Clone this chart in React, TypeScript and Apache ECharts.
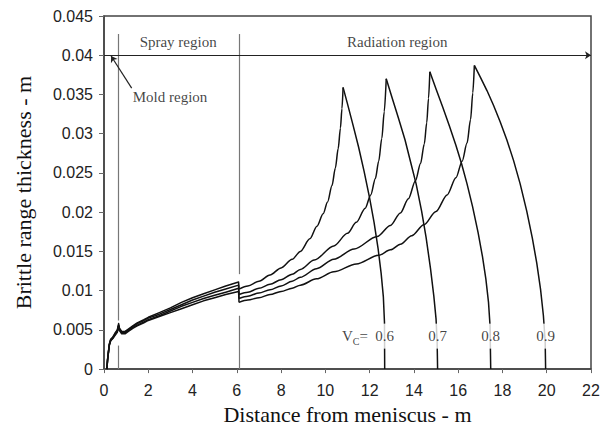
import React, { useEffect, useRef } from "react";
import * as echarts from "echarts";

// Distance from meniscus (m), brittle range thickness (m) for each casting speed Vc
const vc06: [number, number][] = [
  [0.13, 0], [0.16, 0.0012], [0.2, 0.0022], [0.24, 0.0032], [0.3, 0.0038], [0.4, 0.0041], [0.5, 0.0046],
  [0.6, 0.005], [0.66, 0.0058], [0.7, 0.0052], [0.8, 0.0048], [0.95, 0.0048], [1.1, 0.0051], [1.3, 0.0055],
  [1.5, 0.0059], [1.8, 0.0063], [2, 0.0066], [2.5, 0.0072], [3, 0.0078], [3.5, 0.0085], [4, 0.0091],
  [4.5, 0.0096], [5, 0.0101], [5.5, 0.0106], [6.08, 0.0111], [6.1, 0.0102],
  [6.5, 0.0106], [7, 0.0112], [7.5, 0.012], [8, 0.0129], [8.5, 0.014], [8.87, 0.015], [9.3, 0.0166],
  [9.62, 0.0182], [9.9, 0.0198], [10.1, 0.0213], [10.3, 0.0234], [10.45, 0.0256], [10.58, 0.0281],
  [10.68, 0.0307], [10.75, 0.0332], [10.8, 0.0359],
  [11, 0.0338], [11.25, 0.0311], [11.5, 0.0283], [11.75, 0.0252], [12, 0.0218], [12.2, 0.0187],
  [12.38, 0.0154], [12.52, 0.0122], [12.62, 0.0092], [12.67, 0.006], [12.68, 0],
];
const vc07: [number, number][] = [
  [0.13, 0], [0.16, 0.0012], [0.2, 0.0022], [0.24, 0.0031], [0.3, 0.0037], [0.4, 0.004], [0.5, 0.0045],
  [0.6, 0.0049], [0.66, 0.0056], [0.7, 0.0051], [0.8, 0.0047], [0.95, 0.0047], [1.1, 0.005], [1.3, 0.0054],
  [1.5, 0.0058], [1.8, 0.0062], [2, 0.0065], [2.5, 0.007], [3, 0.0076], [3.5, 0.0082], [4, 0.0088],
  [4.5, 0.0093], [5, 0.0098], [5.5, 0.0102], [6.08, 0.0107], [6.1, 0.0095],
  [6.5, 0.0098], [7, 0.0103], [7.5, 0.0108], [8, 0.0114], [8.5, 0.0121], [8.87, 0.0127], [9.5, 0.0139],
  [10.38, 0.0157], [11, 0.0173], [11.4, 0.0187], [11.8, 0.0205], [12.05, 0.0222], [12.26, 0.0243],
  [12.41, 0.0265], [12.55, 0.0294], [12.66, 0.0328], [12.75, 0.037],
  [13, 0.0347], [13.3, 0.032], [13.6, 0.0292], [13.85, 0.0264], [14.1, 0.0236], [14.35, 0.0201],
  [14.55, 0.0168], [14.75, 0.0128], [14.9, 0.0093], [15, 0.0064], [15.05, 0.0034], [15.07, 0],
];
const vc08: [number, number][] = [
  [0.13, 0], [0.16, 0.0011], [0.2, 0.0021], [0.24, 0.0031], [0.3, 0.0036], [0.4, 0.004], [0.5, 0.0044],
  [0.6, 0.0048], [0.66, 0.0055], [0.7, 0.005], [0.8, 0.0046], [0.95, 0.0046], [1.1, 0.0049], [1.3, 0.0053],
  [1.5, 0.0056], [1.8, 0.006], [2, 0.0063], [2.5, 0.0068], [3, 0.0074], [3.5, 0.008], [4, 0.0085],
  [4.5, 0.009], [5, 0.0094], [5.5, 0.0098], [6.08, 0.0103], [6.1, 0.009],
  [6.5, 0.0093], [7, 0.0097], [7.5, 0.0101], [8, 0.0106], [8.5, 0.0112], [8.87, 0.0117], [9.6, 0.0128],
  [10.38, 0.014], [11.3, 0.0153], [12.34, 0.0169], [12.94, 0.0183], [13.39, 0.0199], [13.75, 0.0217],
  [14.07, 0.024], [14.3, 0.0262], [14.47, 0.0287], [14.58, 0.0314], [14.66, 0.0345], [14.72, 0.0379],
  [15, 0.0357], [15.3, 0.0334], [15.6, 0.031], [15.9, 0.0285], [16.15, 0.0262], [16.4, 0.0236],
  [16.65, 0.0207], [16.9, 0.0174], [17.1, 0.0143], [17.25, 0.0115], [17.37, 0.0085], [17.44, 0.0055], [17.47, 0],
];
const vc09: [number, number][] = [
  [0.13, 0], [0.16, 0.0011], [0.2, 0.0021], [0.24, 0.003], [0.3, 0.0036], [0.4, 0.0039], [0.5, 0.0043],
  [0.6, 0.0047], [0.66, 0.0054], [0.7, 0.0049], [0.8, 0.0045], [0.95, 0.0045], [1.1, 0.0048], [1.3, 0.0052],
  [1.5, 0.0055], [1.8, 0.0059], [2, 0.0062], [2.5, 0.0067], [3, 0.0072], [3.5, 0.0077], [4, 0.0082],
  [4.5, 0.0087], [5, 0.0091], [5.5, 0.0095], [6.08, 0.0099], [6.1, 0.0085],
  [6.5, 0.0088], [7, 0.0091], [7.5, 0.0095], [8, 0.0099], [8.5, 0.0103], [8.87, 0.0107], [9.6, 0.0115],
  [10.38, 0.0124], [11.4, 0.0134], [12.41, 0.0145], [12.94, 0.0152], [13.39, 0.0159], [13.9, 0.017],
  [14.45, 0.0184], [15, 0.0201], [15.5, 0.0222], [15.9, 0.0244], [16.18, 0.0265], [16.4, 0.0288],
  [16.56, 0.0318], [16.66, 0.0352], [16.73, 0.0387],
  [17, 0.0372], [17.3, 0.0355], [17.6, 0.0336], [17.9, 0.0315], [18.2, 0.0292], [18.5, 0.0266],
  [18.8, 0.0236], [19.1, 0.0201], [19.35, 0.0167], [19.55, 0.0135], [19.72, 0.0102], [19.85, 0.0068],
  [19.93, 0.0035], [19.95, 0],
];

const speedLabels = ["0.6", "0.7", "0.8", "0.9"];
const speedEndX = [12.68, 15.07, 17.47, 19.95];
const regionBounds = [0.65, 6.1];
const regionLineTop = 0.0427;
const regionLineGaps: [number, number][] = [[0.0062, 0.003], [0.0121, 0.0068]];
const regionNames = ["Spray region", "Radiation region", "Mold region"];
const regionLabelPos: [number, number][] = [[3.35, 0.0417], [13.25, 0.0417], [1.3, 0.0347]];
const boundaryY = 0.04;
const moldArrow: [number, number][] = [[1.25, 0.0358], [0.32, 0.0399]];

const serif = "'Liberation Serif', 'DejaVu Serif', serif";
const sans = "'Liberation Sans', Arial, sans-serif";

export default function App() {
  const ref = useRef<HTMLDivElement>(null);
  useEffect(() => {
    if (!ref.current) return;
    const chart = echarts.init(ref.current, undefined, { renderer: "svg" });
    const curves = [vc06, vc07, vc08, vc09];
    const curveSeries: any[] = [];
    curves.forEach((d, i) => {
      // split: mold+spray (with drop at the spray/radiation boundary), rising branch, falling branch
      const dropIdx = d.findIndex((p) => p[0] === regionBounds[1]);
      let peakIdx = dropIdx;
      for (let k = dropIdx; k < d.length; k++) if (d[k][1] > d[peakIdx][1]) peakIdx = k;
      const parts = [d.slice(0, dropIdx + 1), d.slice(dropIdx, peakIdx + 1), d.slice(peakIdx)];
      parts.forEach((part, j) => {
        curveSeries.push({
          type: "line",
          name: "Vc=" + speedLabels[i],
          data: part,
          symbol: "none",
          z: 3,
          smooth: j === 1 ? 0.3 : false,
          smoothMonotone: "x",
          lineStyle: { color: "#111", width: 1.5, join: "round" },
        });
      });
    });

    const vLines: any[] = [];
    regionBounds.forEach((x, i) => {
      const [g1, g2] = regionLineGaps[i];
      vLines.push([{ coord: [x, regionLineTop] }, { coord: [x, g1] }]);
      vLines.push([{ coord: [x, g2] }, { coord: [x, 0] }]);
    });

    const textItems: any[] = [];
    regionNames.forEach((n, i) => {
      textItems.push({
        value: regionLabelPos[i],
        label: { formatter: n, align: i === 2 ? "left" : "center" },
      });
    });
    speedLabels.forEach((s, i) => {
      textItems.push({
        value: [speedEndX[i], 0.0042],
        label: {
          formatter: s,
          align: "center",
          backgroundColor: "#fff",
          padding: [5, 1, 5, 1],
        },
      });
    });
    textItems.push({
      value: [11.92, 0.0042],
      label: {
        formatter: "{v|V}{s|C}{e|=}",
        align: "right",
        rich: {
          v: { fontFamily: serif, fontSize: 15, color: "#111", lineHeight: 20, verticalAlign: "middle" },
          s: { fontFamily: serif, fontSize: 10, color: "#111", lineHeight: 10, verticalAlign: "bottom" },
          e: { fontFamily: serif, fontSize: 15, color: "#111", lineHeight: 20, verticalAlign: "middle" },
        },
      },
    });

    chart.setOption({
      animation: false,
      grid: {
        left: 104,
        right: 16,
        top: 16,
        bottom: 60,
        show: true,
        borderColor: "#444",
        borderWidth: 1.5,
        backgroundColor: "transparent",
      },
      xAxis: {
        type: "value",
        min: 0,
        max: 22,
        interval: 2,
        name: "Distance from meniscus - m",
        nameLocation: "middle",
        nameGap: 28,
        nameTextStyle: { fontFamily: serif, fontSize: 22, color: "#111" },
        axisLine: { show: true, lineStyle: { color: "#444", width: 1.5 } },
        axisTick: { show: true, length: 4, lineStyle: { color: "#666" } },
        axisLabel: { fontFamily: sans, fontSize: 16, color: "#222", margin: 13 },
        splitLine: { show: false },
      },
      yAxis: {
        type: "value",
        min: 0,
        max: 0.045,
        interval: 0.005,
        name: "Brittle range thickness - m",
        nameLocation: "middle",
        nameGap: 70,
        nameTextStyle: { fontFamily: serif, fontSize: 22, color: "#111" },
        axisLine: { show: true, lineStyle: { color: "#444", width: 1.5 } },
        axisTick: { show: true, length: 5, lineStyle: { color: "#666" } },
        axisLabel: { fontFamily: sans, fontSize: 16, color: "#222", margin: 11 },
        splitLine: { show: false },
      },
      series: [
        ...curveSeries,
        {
          type: "line",
          data: [],
          symbol: "none",
          silent: true,
          markLine: {
            silent: true,
            animation: false,
            symbol: ["none", "none"],
            label: { show: false },
            lineStyle: { color: "#777", width: 1.2, type: "solid" },
            data: vLines,
          },
        },
        {
          type: "line",
          data: [],
          symbol: "none",
          silent: true,
          markLine: {
            silent: true,
            animation: false,
            symbol: ["none", "arrow"],
            symbolSize: 6,
            label: { show: false },
            lineStyle: { color: "#222", width: 1.2, type: "solid" },
            data: [
              [{ coord: [0, boundaryY] }, { coord: [22, boundaryY] }],
              [{ coord: moldArrow[0] }, { coord: moldArrow[1] }],
            ],
          },
        },
        {
          type: "scatter",
          z: 10,
          silent: true,
          symbolSize: 1,
          itemStyle: { color: "rgba(0,0,0,0)" },
          label: {
            show: true,
            position: "inside",
            fontFamily: serif,
            fontSize: 15,
            color: "#111",
            verticalAlign: "middle",
          },
          data: textItems,
        },
      ],
    });
    return () => chart.dispose();
  }, []);
  return <div ref={ref} style={{ width: 607, height: 430, position: "absolute", left: 0, top: 0 }} />;
}
